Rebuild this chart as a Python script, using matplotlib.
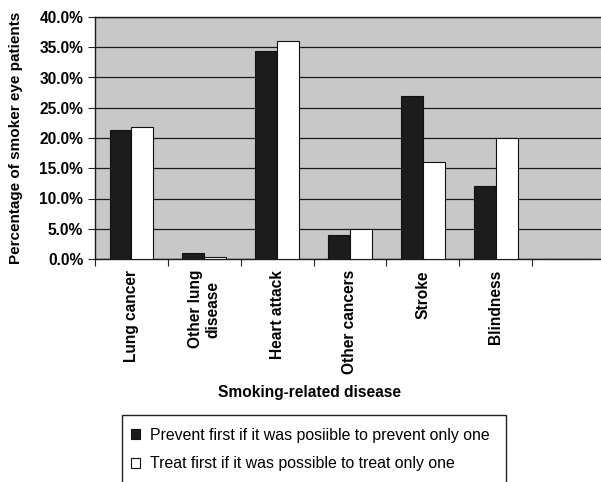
import matplotlib.pyplot as plt
import matplotlib.patches as mpatches
from matplotlib.ticker import FuncFormatter
import numpy as np

plt.rcParams['font.family'] = ['Liberation Sans', 'DejaVu Sans']

diseases = ['Lung cancer', 'Other lung\ndisease', 'Heart attack', 'Other cancers',
            'Stroke', 'Blindness', '']
prevent = [21.3, 1.0, 34.4, 4.0, 27.0, 12.0, 0]
treat = [21.8, 0.4, 36.0, 5.0, 16.0, 20.0, 0]
labels = ['Prevent first if it was posiible to prevent only one',
          'Treat first if it was possible to treat only one']

fig = plt.figure(figsize=(6.01, 4.82), dpi=100)
ax = fig.add_axes([95 / 601, 1 - 259 / 482, 510 / 601, 242 / 482])
ax.set_facecolor('#c8c8c8')

x = np.arange(len(diseases))
w = 0.3
ax.bar(x - w / 2, prevent, w, color='#1c1c1c', edgecolor='#111111', linewidth=0.8, zorder=3)
ax.bar(x + w / 2, treat, w, color='white', edgecolor='#111111', linewidth=0.8, zorder=3)

ax.set_xlim(-0.5, len(diseases) - 0.5)
ax.set_ylim(0, 40)
ax.set_yticks(np.arange(0, 41, 5))
ax.yaxis.set_major_formatter(FuncFormatter(lambda v, p: f'{v:.1f}%'))
ax.grid(axis='y', color='#1a1a1a', linewidth=0.9, zorder=1)

# boundaries get the tick marks, centres get the labels
ax.set_xticks(np.arange(-0.5, len(diseases), 1))
ax.set_xticklabels([])
ax.set_xticks(x, minor=True)
ax.set_xticklabels(diseases, minor=True, rotation=90, va='top', ha='center',
                   multialignment='center', fontsize=11.2, fontweight='bold')
ax.tick_params(axis='x', which='minor', length=0, pad=8)
ax.tick_params(axis='x', which='major', length=5, direction='out', color='#222222')
ax.tick_params(axis='y', length=5, direction='out', color='#222222', labelsize=11.2)
for t in ax.get_yticklabels():
    t.set_fontweight('bold')

for s in ax.spines.values():
    s.set_color('#1a1a1a')
    s.set_linewidth(1.0)

ax.set_ylabel('Percentage of smoker eye patients', fontsize=11, fontweight='bold', labelpad=12)
fig.text(310 / 601, 1 - 393 / 482, 'Smoking-related disease', ha='center', va='center',
         fontsize=11.2, fontweight='bold')

# legend box runs past the lower edge
box = mpatches.Rectangle((122 / 601, -0.05), 384 / 601, 0.05 + 67 / 482,
                         transform=fig.transFigure, facecolor='white',
                         edgecolor='#222222', linewidth=1.0, clip_on=False)
fig.patches.append(box)
handles = [mpatches.Patch(facecolor='#1c1c1c', edgecolor='#111111', linewidth=0.8),
           mpatches.Patch(facecolor='white', edgecolor='#111111', linewidth=0.8)]
fig.legend(handles, labels, loc='upper left', bbox_to_anchor=(123 / 601, 1 - 420 / 482),
           frameon=False, fontsize=11.4, handlelength=0.6, handleheight=0.6,
           handletextpad=0.6, labelspacing=0.85, borderpad=0)

fig.savefig('out.png', dpi=100)
